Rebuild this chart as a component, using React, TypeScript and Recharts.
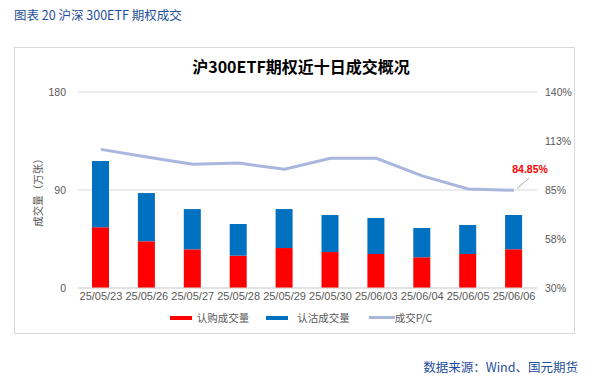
import React from "react";
import {
  ComposedChart,
  Bar,
  Line,
  XAxis,
  YAxis,
  CartesianGrid,
  Legend,
  LabelList,
} from "recharts";

// 日期
const dates = [
  "25/05/23",
  "25/05/26",
  "25/05/27",
  "25/05/28",
  "25/05/29",
  "25/05/30",
  "25/06/03",
  "25/06/04",
  "25/06/05",
  "25/06/06",
];

// 认购成交量（万张）
const callVolume = [55.7, 42.9, 35.5, 29.7, 36.7, 33.0, 31.2, 28.2, 31.2, 35.5];
// 认沽成交量（万张）
const putVolume = [61.0, 44.3, 37.0, 29.1, 35.8, 34.0, 33.1, 26.9, 26.7, 31.5];
// 成交P/C（%）
const pcRatio = [107.8, 103.5, 99.4, 100.1, 96.6, 102.8, 102.8, 92.9, 85.6, 84.85];

const leftTicks = [0, 90, 180];
const rightTicks = [30, 57.5, 85, 112.5, 140];

const data = dates.map((d, i) => ({
  date: d,
  call: callVolume[i],
  put: putVolume[i],
  pc: pcRatio[i],
}));

const RED = "#ff0000";
const BLUE = "#0070c0";
const LAVENDER = "#a9b7df";
const TICK = "#595959";
const FONT = "'Liberation Sans', 'Noto Sans CJK SC', sans-serif";

const renderPcLabel = (props: any) => {
  const { x, y, value, index } = props;
  if (index !== pcRatio.length - 1) return null;
  return (
    <g>
      <line x1={x + 3} y1={y - 2} x2={x + 15} y2={y - 12} stroke="#a6a6a6" strokeWidth={1} />
      <text
        x={x + 16}
        y={y - 17}
        textAnchor="middle"
        fill={RED}
        fontSize={10.5}
        fontWeight="bold"
        fontFamily={FONT}
      >
        {value.toFixed(2)}%
      </text>
    </g>
  );
};

const legendItems = [
  { label: "认购成交量", color: RED, w: 22, gap: 5, after: 17 },
  { label: "认沽成交量", color: BLUE, w: 22, gap: 9, after: 19 },
  { label: "成交P/C", color: LAVENDER, w: 26, gap: 0, after: 0 },
];

const renderLegend = () => (
  <div
    style={{
      display: "flex",
      justifyContent: "center",
      alignItems: "center",
      fontFamily: "'Noto Sans CJK SC', sans-serif",
      fontSize: 10.5,
      color: TICK,
      paddingLeft: 0,
    }}
  >
    {legendItems.map((it) => (
      <div key={it.label} style={{ display: "flex", alignItems: "center", marginRight: it.after }}>
        <span
          style={{
            display: "inline-block",
            width: it.w,
            height: it.color === LAVENDER ? 3 : 4,
            background: it.color,
            marginRight: it.gap,
          }}
        />
        <span>{it.label}</span>
      </div>
    ))}
  </div>
);

export default function App() {
  return (
    <div
      style={{
        position: "absolute",
        left: 0,
        top: 0,
        width: 602,
        height: 377,
        background: "#fff",
        overflow: "hidden",
      }}
    >
      <div
        style={{
          position: "absolute",
          left: 14,
          top: 5,
          fontFamily: "'Noto Sans CJK SC', sans-serif",
          fontSize: 12.5,
          color: "#1f4e9a",
          whiteSpace: "nowrap",
        }}
      >
        图表 20 沪深 300ETF 期权成交
      </div>
      <div
        style={{
          position: "absolute",
          left: 14,
          top: 47,
          width: 561,
          height: 287,
          border: "1px solid #d9d9d9",
          boxSizing: "border-box",
        }}
      />
      <div
        style={{
          position: "absolute",
          left: 0,
          width: 602,
          top: 54,
          textAlign: "center",
          fontFamily: "'Noto Sans CJK SC', sans-serif",
          fontSize: 16,
          fontWeight: "bold",
          color: "#000",
          whiteSpace: "nowrap",
        }}
      >
        沪300ETF期权近十日成交概况
      </div>
      <div
        style={{
          position: "absolute",
          left: 28,
          top: 190,
          transform: "translate(-50%, -50%) rotate(-90deg)",
          fontFamily: "'Noto Sans CJK SC', sans-serif",
          fontSize: 10.5,
          color: TICK,
          whiteSpace: "nowrap",
          transformOrigin: "center",
          marginLeft: 9,
        }}
      >
        成交量（万张）
      </div>
      <div style={{ position: "absolute", left: 0, top: 0 }}>
        <ComposedChart
          width={602}
          height={377}
          data={data}
          margin={{ top: 92, right: 0, bottom: 69, left: 0 }}
        >
          <CartesianGrid yAxisId="left" vertical={false} stroke="#d9d9d9" />
          <XAxis
            dataKey="date"
            interval={0}
            tickLine={false}
            axisLine={{ stroke: "#d9d9d9" }}
            tickSize={0}
            tickMargin={4}
            height={20}
            tick={{ fill: TICK, fontSize: 11, fontFamily: FONT }}
          />
          <YAxis
            yAxisId="left"
            width={78}
            domain={[0, 180]}
            ticks={leftTicks}
            tickLine={false}
            axisLine={false}
            tickSize={0}
            tickMargin={12}
            tick={{ fill: TICK, fontSize: 10.5, fontFamily: FONT }}
          />
          <YAxis
            yAxisId="right"
            orientation="right"
            width={65}
            domain={[30, 140]}
            ticks={rightTicks}
            tickFormatter={(v: number) => `${Math.round(v)}%`}
            tickLine={false}
            axisLine={false}
            tickSize={0}
            tickMargin={8}
            tick={{ fill: TICK, fontSize: 10.5, fontFamily: FONT }}
          />
          <Bar
            yAxisId="left"
            dataKey="call"
            name="认购成交量"
            stackId="v"
            fill={RED}
            barSize={17}
            isAnimationActive={false}
          />
          <Bar
            yAxisId="left"
            dataKey="put"
            name="认沽成交量"
            stackId="v"
            fill={BLUE}
            barSize={17}
            isAnimationActive={false}
          />
          <Line
            yAxisId="right"
            dataKey="pc"
            name="成交P/C"
            type="linear"
            stroke={LAVENDER}
            strokeWidth={3}
            dot={false}
            isAnimationActive={false}
          >
            <LabelList dataKey="pc" content={renderPcLabel} />
          </Line>
          <Legend
            layout="horizontal"
            verticalAlign="middle"
            align="center"
            content={renderLegend}
            wrapperStyle={{ top: 310, left: 0, width: 602 }}
          />
        </ComposedChart>
      </div>
      <div
        style={{
          position: "absolute",
          right: 24,
          top: 357,
          fontFamily: "'Noto Sans CJK SC', sans-serif",
          fontSize: 12.5,
          color: "#1f4e9a",
          whiteSpace: "nowrap",
        }}
      >
        数据来源：Wind、国元期货
      </div>
    </div>
  );
}
